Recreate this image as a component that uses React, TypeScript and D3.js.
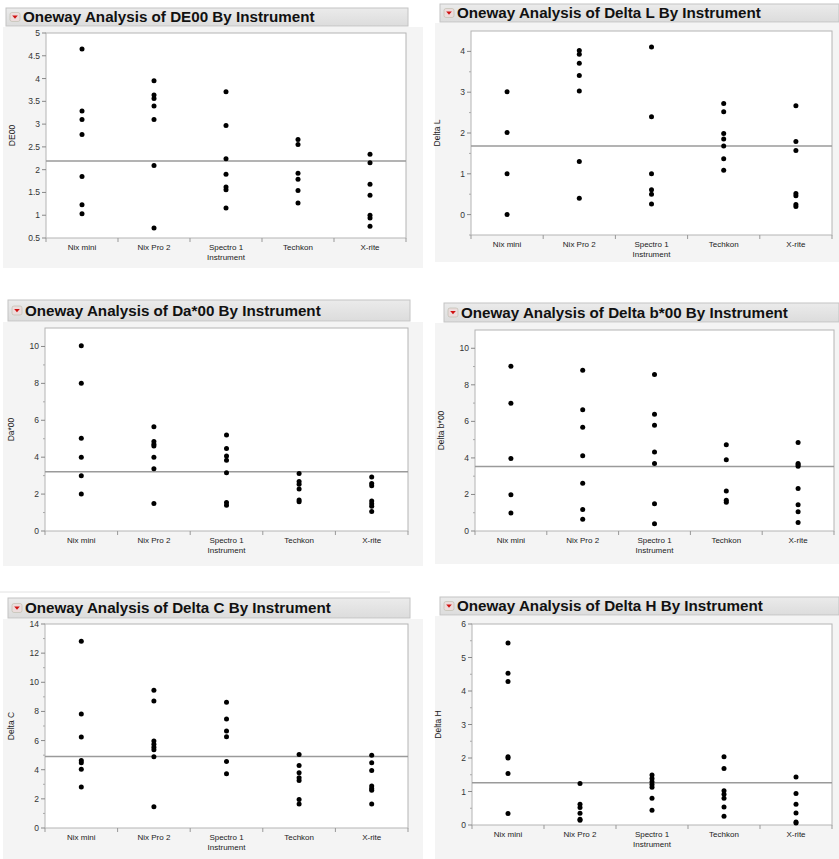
import React from 'react';
import * as d3 from 'd3';

// categories on the x axis
const instruments = ['Nix mini', 'Nix Pro 2', 'Spectro 1', 'Techkon', 'X-rite'];

// values per instrument
const de00 = [
  [4.65, 3.29, 3.1, 2.77, 1.85, 1.23, 1.03],
  [3.95, 3.64, 3.56, 3.4, 3.1, 2.09, 0.72],
  [3.71, 2.97, 2.24, 1.9, 1.62, 1.56, 1.16],
  [2.66, 2.55, 1.92, 1.79, 1.54, 1.27],
  [2.34, 2.15, 1.68, 1.44, 1.0, 0.94, 0.76],
];
const deltaL = [
  [3.01, 2.01, 1.0, 0.0],
  [4.02, 3.93, 3.71, 3.41, 3.03, 1.3, 0.4],
  [4.11, 2.4, 1.0, 0.61, 0.5, 0.26],
  [2.72, 2.52, 1.99, 1.85, 1.68, 1.37, 1.09],
  [2.67, 1.79, 1.57, 0.52, 0.46, 0.25, 0.2],
];
const da00 = [
  [10.04, 8.0, 5.02, 3.99, 2.99, 2.0],
  [5.65, 4.85, 4.7, 4.6, 3.99, 3.37, 1.49],
  [5.2, 4.47, 4.06, 3.84, 3.15, 1.54, 1.39],
  [3.12, 2.68, 2.54, 2.28, 1.68, 1.59],
  [2.93, 2.57, 2.45, 1.63, 1.47, 1.34, 1.05],
];
const deltaB00 = [
  [9.02, 6.99, 3.97, 1.99, 0.98],
  [8.8, 6.63, 5.68, 4.12, 2.62, 1.17, 0.64],
  [8.56, 6.39, 5.79, 4.32, 3.7, 1.49, 0.4],
  [4.72, 3.9, 2.19, 1.68, 1.57],
  [4.85, 3.7, 3.62, 3.55, 2.33, 1.44, 1.06, 0.47],
];
const deltaC = [
  [12.81, 7.83, 6.24, 4.64, 4.48, 4.04, 2.82],
  [9.46, 8.72, 5.97, 5.74, 5.55, 5.37, 4.89, 1.45],
  [8.63, 7.48, 6.66, 6.27, 4.57, 3.72],
  [5.05, 4.29, 3.79, 3.44, 3.26, 1.95, 1.65],
  [5.0, 4.48, 3.95, 2.89, 2.71, 2.59, 1.65],
];
const deltaH = [
  [5.43, 4.53, 4.28, 2.04, 2.0, 1.54, 0.34],
  [1.24, 0.62, 0.52, 0.35, 0.17, 0.14],
  [1.49, 1.39, 1.29, 1.21, 1.13, 0.8, 0.44],
  [2.04, 1.69, 1.02, 0.92, 0.8, 0.54, 0.26],
  [1.43, 0.94, 0.62, 0.36, 0.09, 0.06],
];

const responses = ['DE00', 'Delta L', 'Da*00', 'Delta b*00', 'Delta C', 'Delta H'];
const grandMeans = [2.19, 1.68, 3.21, 3.53, 4.91, 1.26];
const yDomains = [[0.5, 5], [-0.5, 4.5], [0, 11], [0, 11], [0, 14], [0, 6]];
const yTickValues = [
  [0.5, 1, 1.5, 2, 2.5, 3, 3.5, 4, 4.5, 5],
  [0, 1, 2, 3, 4],
  [0, 2, 4, 6, 8, 10],
  [0, 2, 4, 6, 8, 10],
  [0, 2, 4, 6, 8, 10, 12, 14],
  [0, 1, 2, 3, 4, 5, 6],
];
const yMinorTicks = [
  [],
  [-0.5, 0.5, 1.5, 2.5, 3.5],
  [1, 3, 5, 7, 9],
  [1, 3, 5, 7, 9],
  [1, 3, 5, 7, 9, 11, 13],
  [0.5, 1.5, 2.5, 3.5, 4.5, 5.5],
];
const seriesValues = [de00, deltaL, da00, deltaB00, deltaC, deltaH];

// screen layout of each report block
const layouts = [
  { head: [6, 8, 402, 18], bg: [3, 27, 420, 241], plot: [46, 406, 33, 238] },
  { head: [440, 4, 399, 18], bg: [435, 23, 404, 239], plot: [471, 832, 31, 235] },
  { head: [8, 300, 402, 21], bg: [3, 322, 420, 244], plot: [45, 408, 328, 531] },
  { head: [444, 303, 395, 19], bg: [435, 323, 404, 241], plot: [475, 834, 330, 531] },
  { head: [8, 598, 402, 20], bg: [3, 619, 420, 240], plot: [45, 408, 624, 828] },
  { head: [440, 597, 399, 18], bg: [435, 616, 404, 243], plot: [472, 832, 624, 825] },
];

const FONT = '"Liberation Sans", Arial, Helvetica, sans-serif';

function Panel({ i }: { i: number }) {
  const lay = layouts[i];
  const [l, r, t, b] = lay.plot;
  const [hx, hy, hw, hh] = lay.head;
  const [bx, by, bw, bh] = lay.bg;

  const x = d3.scaleBand<string>().domain(instruments).range([l, r]);
  const y = d3.scaleLinear().domain(yDomains[i]).range([b, t]);
  const edges = [...instruments.map((c) => x(c) as number), r];

  return (
    <g>
      <rect x={bx} y={by} width={bw} height={bh} fill="#f4f4f4" />
      <rect x={hx} y={hy} width={hw} height={hh} fill="url(#hdr)" stroke="#c4c4c4" strokeWidth={1} />
      <rect x={hx + 4} y={hy + hh / 2 - 4.5} width={10} height={9} rx={2} fill="#ecdcdc" stroke="#bba" strokeWidth={0.6} />
      <path d={`M${hx + 6.2},${hy + hh / 2 - 1.5} L${hx + 11.8},${hy + hh / 2 - 1.5} L${hx + 9},${hy + hh / 2 + 1.8} Z`} fill="#d01010" />
      <text x={hx + 17} y={hy + hh / 2 + 5.2} fontFamily={FONT} fontWeight="bold" fontSize={15.2} fill="#111">
        {`Oneway Analysis of ${responses[i]} By Instrument`}
      </text>

      <rect x={l} y={t} width={r - l} height={b - t} fill="#fff" stroke="#b4b4b4" strokeWidth={1} />

      {yTickValues[i].map((v) => (
        <g key={`t${v}`}>
          <line x1={l - 4} x2={l} y1={y(v)} y2={y(v)} stroke="#888" />
          <text x={l - 6} y={y(v) + 3} textAnchor="end" fontFamily={FONT} fontSize={8.5} fill="#333">
            {d3.format('~g')(v)}
          </text>
        </g>
      ))}
      {yMinorTicks[i].map((v) => (
        <line key={`m${v}`} x1={l - 2} x2={l} y1={y(v)} y2={y(v)} stroke="#aaa" />
      ))}
      <text
        transform={`translate(${l - 31},${(t + b) / 2}) rotate(-90)`}
        textAnchor="middle"
        fontFamily={FONT}
        fontSize={8.5}
        fill="#222"
      >
        {responses[i]}
      </text>

      {edges.map((e, k) => (
        <line key={`e${k}`} x1={e} x2={e} y1={b} y2={b + 4} stroke="#999" />
      ))}
      {instruments.map((c) => (
        <text
          key={c}
          x={(x(c) as number) + x.bandwidth() / 2}
          y={b + 12}
          textAnchor="middle"
          fontFamily={FONT}
          fontSize={8}
          fill="#222"
        >
          {c}
        </text>
      ))}
      <text x={(l + r) / 2} y={b + 22} textAnchor="middle" fontFamily={FONT} fontSize={8} fill="#222">
        Instrument
      </text>

      <line x1={l} x2={r} y1={y(grandMeans[i])} y2={y(grandMeans[i])} stroke="#9a9a9a" strokeWidth={1.5} />

      {seriesValues[i].map((vals, ci) =>
        vals.map((v, k) => (
          <circle
            key={`${ci}-${k}`}
            cx={(x(instruments[ci]) as number) + x.bandwidth() / 2}
            cy={y(v)}
            r={2.5}
            fill="#000"
          />
        ))
      )}
    </g>
  );
}

export default function App() {
  return (
    <svg
      width={839}
      height={859}
      style={{ position: 'absolute', left: 0, top: 0, background: '#fff' }}
    >
      <defs>
        <linearGradient id="hdr" x1="0" y1="0" x2="0" y2="1">
          <stop offset="0" stopColor="#ebebeb" />
          <stop offset="1" stopColor="#dcdcdc" />
        </linearGradient>
      </defs>
      <line x1={0} x2={390} y1={592} y2={592} stroke="#e2e2e2" />
      {layouts.map((_, i) => (
        <Panel key={i} i={i} />
      ))}
    </svg>
  );
}
